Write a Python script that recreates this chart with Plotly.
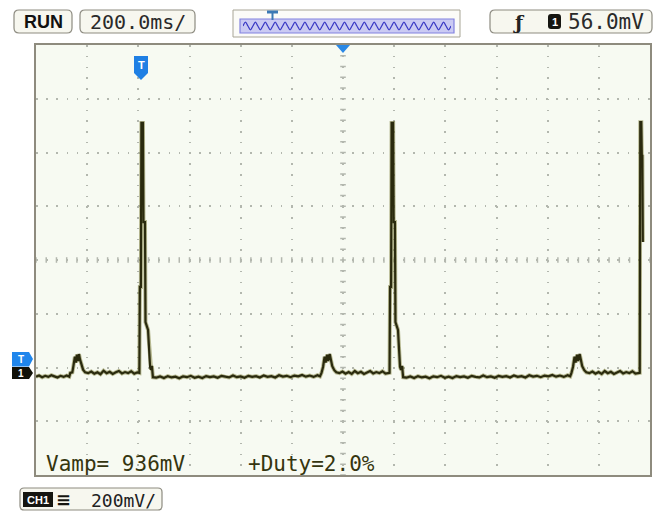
import plotly.graph_objects as go

time_ms = [
    -1200, -1188, -1176, -1164, -1152, -1140, -1128, -1116, -1104, -1092, -1080, -1070,
    -1066, -1058,
    -1054, -1048, -1044, -1040, -1036, -1032, -1028, -1022, -1016, -1008,
    -996, -984, -972, -960, -948, -936, -924, -912, -900, -888, -876, -864, -852, -840, -828, -816, -804,
    -796, -794, -790, -788, -782, -780, -774, -772, -762, -754, -750, -747, -743,
    -730, -715, -700, -685, -670, -655, -640, -625, -610, -595, -580, -565, -550, -535, -520, -505,
    -490, -475, -460, -445, -430, -415, -400, -385, -370, -355, -340, -325, -310, -295, -280, -265,
    -250, -235, -220, -205, -190, -175, -160, -145, -130, -115, -100, -90,
    -84, -78, -72, -68, -62, -58, -52, -48, -42, -34, -26,
    -14, -2, 10, 22, 34, 46, 58, 70, 82, 94, 106, 118, 130, 142, 154, 166, 178,
    182, 184, 188, 190, 196, 198, 203, 205, 215, 223, 227, 231, 235,
    248, 263, 278, 293, 308, 323, 338, 353, 368, 383, 398, 413, 428, 443, 458, 473,
    488, 503, 518, 533, 548, 563, 578, 593, 608, 623, 638, 653, 668, 683, 698, 713,
    728, 743, 758, 773, 788, 803, 818, 833, 848, 863, 878, 888,
    893, 899, 905, 909, 915, 919, 925, 929, 935, 943, 951,
    963, 975, 987, 999, 1011, 1023, 1035, 1047, 1059, 1071, 1083, 1095, 1107, 1119, 1131, 1143, 1155,
    1160, 1162, 1166, 1168, 1170, 1172,
]
volt_mV = [
    -434, -430, -436, -431, -435, -429, -433, -437, -431, -435, -430, -434,
    -420, -418,
    -396, -360, -382, -352, -376, -350, -370, -395, -408, -418,
    -421, -415, -423, -418, -425, -412, -421, -416, -424, -418, -413, -422, -417, -421, -414, -423, -418,
    -420, -100, -100, 510, 510, 141, 141, -231, -260, -398, -409, -394, -436,
    -438, -433, -439, -432, -437, -434, -440, -433, -436, -431, -438, -434, -439, -432, -436, -433,
    -438, -431, -435, -437, -430, -436, -433, -438, -431, -435, -432, -437, -430, -435, -432, -437,
    -429, -434, -431, -436, -430, -433, -428, -434, -430, -435, -429, -433,
    -420, -398, -360, -382, -352, -376, -350, -372, -395, -410, -418,
    -421, -415, -423, -417, -424, -413, -421, -416, -424, -418, -413, -422, -417, -421, -414, -423, -419,
    -420, -100, -100, 510, 510, 141, 141, -231, -260, -398, -409, -394, -436,
    -438, -433, -439, -432, -437, -434, -440, -433, -436, -431, -438, -434, -439, -432, -436, -433,
    -438, -431, -435, -437, -430, -436, -433, -438, -431, -435, -432, -437, -430, -435, -432, -437,
    -429, -434, -431, -436, -430, -433, -428, -434, -430, -435, -429, -433,
    -420, -398, -360, -382, -352, -376, -350, -372, -395, -410, -418,
    -421, -415, -423, -417, -424, -413, -421, -416, -424, -418, -413, -422, -417, -421, -414, -423, -419,
    -420, 513, 513, 390, 392, 67,
]
time_per_div = 200      # ms / div
volt_per_div = 200      # mV / div
x_range = [-1200, 1200]
y_range = [-800, 800]
thumb_wave = [0, 1, 0, -1] * 21 + [0]

status_text = "RUN"
timebase_text = "200.0ms/"
trigger_level_text = "56.0mV"
ch_scale_text = "200mV/"
meas1_text = "Vamp= 936mV"
meas2_text = "+Duty=2.0%"

# ---------------- layout helpers (page pixels -> paper) ----------------
W, H = 656, 514
PL, PR, PT, PB = 36, 650, 45, 475


def X(x):
    return x / W


def Y(y):
    return 1 - y / H


def poly(pts):
    return "M " + " L ".join(f"{X(a):.5f},{Y(b):.5f}" for a, b in pts) + " Z"


def rrect(x0, y0, x1, y1, r):
    p = [
        f"M {X(x0 + r):.5f},{Y(y0):.5f}",
        f"L {X(x1 - r):.5f},{Y(y0):.5f}",
        f"Q {X(x1):.5f},{Y(y0):.5f} {X(x1):.5f},{Y(y0 + r):.5f}",
        f"L {X(x1):.5f},{Y(y1 - r):.5f}",
        f"Q {X(x1):.5f},{Y(y1):.5f} {X(x1 - r):.5f},{Y(y1):.5f}",
        f"L {X(x0 + r):.5f},{Y(y1):.5f}",
        f"Q {X(x0):.5f},{Y(y1):.5f} {X(x0):.5f},{Y(y1 - r):.5f}",
        f"L {X(x0):.5f},{Y(y0 + r):.5f}",
        f"Q {X(x0):.5f},{Y(y0):.5f} {X(x0 + r):.5f},{Y(y0):.5f} Z",
    ]
    return " ".join(p)


MONO = "DejaVu Sans Mono"
TXT = "#35350f"
GRID = "#b3b7ae"

fig = go.Figure()

# center-line graticule ticks (1/5 division)
sub_t = time_per_div / 5
sub_v = volt_per_div / 5
nx = int(round((x_range[1] - x_range[0]) / sub_t))
ny = int(round((y_range[1] - y_range[0]) / sub_v))
fig.add_trace(go.Scatter(
    x=[x_range[0] + i * sub_t for i in range(nx + 1)], y=[0] * (nx + 1),
    mode="markers", hoverinfo="skip", showlegend=False,
    marker=dict(symbol="line-ns", size=4, line=dict(width=1.5, color=GRID)),
    xaxis="x", yaxis="y"))
fig.add_trace(go.Scatter(
    x=[0] * (ny + 1), y=[y_range[0] + i * sub_v for i in range(ny + 1)],
    mode="markers", hoverinfo="skip", showlegend=False,
    marker=dict(symbol="line-ew", size=4, line=dict(width=1.5, color=GRID)),
    xaxis="x", yaxis="y"))

# waveform (halo + trace)
fig.add_trace(go.Scatter(x=time_ms, y=volt_mV, mode="lines", hoverinfo="skip",
                         showlegend=False,
                         line=dict(color="rgba(120,120,50,0.5)", width=4),
                         xaxis="x", yaxis="y"))
fig.add_trace(go.Scatter(x=time_ms, y=volt_mV, mode="lines", showlegend=False,
                         line=dict(color="#2a2a0e", width=2.2),
                         xaxis="x", yaxis="y"))

# thumbnail wave
fig.add_trace(go.Scatter(x=[i * 0.25 for i in range(len(thumb_wave))], y=thumb_wave,
                         mode="lines", line=dict(color="#3a3ac4", width=1.3, shape="spline"),
                         hoverinfo="skip", showlegend=False, xaxis="x2", yaxis="y2"))

shapes = []
# background of screen
shapes.append(dict(type="rect", xref="paper", yref="paper", x0=X(PL), x1=X(PR), y0=Y(PB), y1=Y(PT),
                   fillcolor="#f7faf2", line=dict(width=0), layer="below"))
# header boxes
for (a, b, c, d) in [(14, 10, 72, 33), (80, 10, 195, 33), (490, 10, 652, 33)]:
    shapes.append(dict(type="path", xref="paper", yref="paper", path=rrect(a, b, c, d, 5),
                       fillcolor="#f7f7ef", line=dict(color="#8d8b80", width=1.2), layer="below"))
# thumbnail
shapes.append(dict(type="rect", xref="paper", yref="paper", x0=X(233), x1=X(460), y0=Y(37), y1=Y(10),
                   fillcolor="#fbfbf8", line=dict(color="#a8a596", width=1), layer="below"))
shapes.append(dict(type="rect", xref="paper", yref="paper", x0=X(240), x1=X(454), y0=Y(33), y1=Y(19),
                   fillcolor="#cacaf3", line=dict(color="#8282e0", width=1.2), layer="below"))
# thumbnail T marker
shapes.append(dict(type="rect", xref="paper", yref="paper", x0=X(267), x1=X(278), y0=Y(13.5), y1=Y(10.5),
                   fillcolor="#3a78b5", line=dict(width=0)))
shapes.append(dict(type="rect", xref="paper", yref="paper", x0=X(271.5), x1=X(273.5), y0=Y(20), y1=Y(13),
                   fillcolor="#3a78b5", line=dict(width=0)))
# trigger position triangle
shapes.append(dict(type="path", xref="paper", yref="paper",
                   path=poly([(336, 45), (350, 45), (343, 53)]),
                   fillcolor="#2a88e6", line=dict(width=0)))
# T shield inside screen
shapes.append(dict(type="path", xref="paper", yref="paper",
                   path=poly([(134, 56), (148, 56), (148, 73), (141, 80), (134, 73)]),
                   fillcolor="#1f7fe4", line=dict(width=0)))
# left trigger-level / channel markers
shapes.append(dict(type="path", xref="paper", yref="paper",
                   path=poly([(12, 352), (29, 352), (33, 359), (29, 366.5), (12, 366.5)]),
                   fillcolor="#1f86ec", line=dict(width=0)))
shapes.append(dict(type="path", xref="paper", yref="paper",
                   path=poly([(12, 367), (29, 367), (33, 373), (29, 379), (12, 379)]),
                   fillcolor="#111108", line=dict(width=0)))
# channel-1 badge in trigger box
shapes.append(dict(type="path", xref="paper", yref="paper", path=rrect(548, 14, 561, 29, 3),
                   fillcolor="#151510", line=dict(width=0)))
# bottom CH1 box
shapes.append(dict(type="path", xref="paper", yref="paper", path=rrect(20, 488, 162, 510, 4),
                   fillcolor="#f7f7ef", line=dict(color="#8d8b80", width=1.2), layer="below"))
shapes.append(dict(type="rect", xref="paper", yref="paper", x0=X(23), x1=X(53), y0=Y(507), y1=Y(492),
                   fillcolor="#151510", line=dict(width=0)))

annotations = []


def txt(x, y, s, size, color=TXT, family=MONO, anchor="center", bold=False):
    if bold:
        s = f"<b>{s}</b>"
    annotations.append(dict(x=X(x), y=Y(y), xref="paper", yref="paper", text=s,
                            showarrow=False, xanchor=anchor, yanchor="middle",
                            font=dict(family=family, size=size, color=color)))


txt(43, 22, status_text, 18, color="#111", family="Liberation Sans", bold=True)
txt(138, 22, timebase_text, 20, color="#2a2a2a")
txt(519, 22, "ƒ", 19, color="#222", family="DejaVu Serif", bold=True)
txt(554.5, 22, "1", 11, color="#ffffff", family="Liberation Sans", bold=True)
txt(606, 22, trigger_level_text, 21, color="#2a2a2a")
txt(141, 65, "T", 11, color="#ffffff", family="Liberation Sans", bold=True)
txt(21, 359, "T", 10, color="#ffffff", family="Liberation Sans", bold=True)
txt(21, 373.5, "1", 10, color="#ffffff", family="Liberation Sans", bold=True)
txt(38, 500, "CH1", 11, color="#ffffff", family="Liberation Sans", bold=True)
txt(63, 499, "≡", 18, color="#151510", family="DejaVu Sans", bold=True)
txt(123, 500, ch_scale_text, 18, color="#222")
txt(44, 464, meas1_text, 21, anchor="left")
txt(246, 464, meas2_text, 21, anchor="left")

fig.update_layout(
    width=W, height=H,
    margin=dict(l=0, r=0, t=0, b=0),
    paper_bgcolor="#ffffff",
    plot_bgcolor="rgba(0,0,0,0)",
    showlegend=False,
    shapes=shapes,
    annotations=annotations,
    xaxis=dict(domain=[X(PL), X(PR)], range=x_range, dtick=time_per_div, tick0=0,
               showticklabels=False, ticks="", zeroline=False,
               showgrid=True, gridcolor=GRID, gridwidth=1.5, griddash="1.5px,9.25px",
               showline=True, linecolor="#8e8b7e", linewidth=1.5, mirror=True, fixedrange=True),
    yaxis=dict(domain=[Y(PB), Y(PT)], range=y_range, dtick=volt_per_div, tick0=0,
               showticklabels=False, ticks="", zeroline=False,
               showgrid=True, gridcolor=GRID, gridwidth=1.5, griddash="1.5px,8.7px",
               showline=True, linecolor="#8e8b7e", linewidth=1.5, mirror=True, fixedrange=True),
    xaxis2=dict(domain=[X(243), X(451)], range=[0, 21], visible=False, anchor="y2"),
    yaxis2=dict(domain=[Y(31), Y(21)], range=[-1.3, 1.3], visible=False, anchor="x2"),
)

fig.write_html("out.html")
